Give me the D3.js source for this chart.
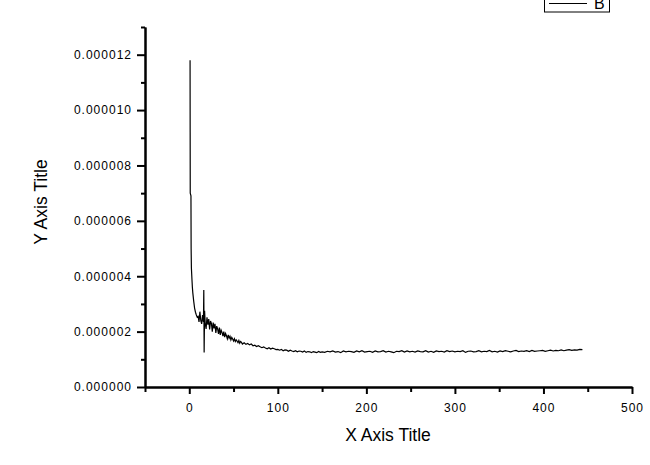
<!DOCTYPE html>
<html>
<head>
<meta charset="utf-8">
<script src="https://cdn.jsdelivr.net/npm/d3@7"></script>
<style>
  body { margin: 0; background: #fff; }
</style>
</head>
<body>
<script>
// series B (y in units of 1e-6)
var xValues = [0.9, 1.0, 1.1, 1.9, 2.1, 2.4, 3.0, 3.5, 4.0, 5.0, 6.0, 7.0, 8.0, 9.0,
  10, 11, 12, 13, 14, 15, 16, 16.4, 16.8, 17.3, 18, 19, 20, 21, 22, 23, 24, 25, 26, 27, 28, 29,
  30, 31, 32, 33, 34, 35, 36, 37, 38, 39, 40, 41, 42, 43, 44, 45, 46, 47, 48, 49,
  50, 51, 52, 53, 54, 55, 56, 57, 58, 59, 60,
  62, 64, 66, 68, 70, 72, 74, 76, 78, 80, 82, 84, 86, 88, 90, 92, 94, 96, 98, 100,
  102, 104, 106, 108, 110, 112, 114, 116, 118, 120, 122, 124, 126, 128, 130,
  132, 134, 136, 138, 140, 142, 144, 146, 148, 150,
  153, 156, 159, 162, 165, 168, 171, 174, 177, 180, 183, 186, 189, 192, 195, 198,
  201, 204, 207, 210, 213, 216, 219, 222, 225, 228, 231, 234, 237, 240, 243, 246, 249,
  252, 255, 258, 261, 264, 267, 270, 273, 276, 279, 282, 285, 288, 291, 294, 297, 300,
  303, 306, 309, 312, 315, 318, 321, 324, 327, 330, 333, 336, 339, 342, 345, 348, 351,
  354, 357, 360, 363, 366, 369, 372, 375, 378, 381, 384, 387, 390, 393, 396, 399,
  402, 405, 408, 411, 414, 417, 420, 423, 426, 429, 432, 435, 438, 441, 444, 447];

var yMicro = [11.8, 9.2, 7.0, 6.9, 5.0, 4.3, 3.9, 3.6, 3.4, 3.1, 2.85, 2.7, 2.6, 2.52,
  2.55, 2.35, 2.72, 2.40, 2.28, 2.60, 2.35, 3.50, 1.25, 2.75, 2.30, 2.10, 2.52, 2.25, 2.45, 2.08, 2.38, 2.30, 2.00, 2.33, 2.12, 2.28,
  1.95, 2.20, 2.10, 1.92, 2.15, 1.88, 2.05, 1.97, 1.84, 2.00, 1.80, 1.93, 1.85, 1.74, 1.88, 1.76, 1.83, 1.70, 1.79, 1.73,
  1.66, 1.74, 1.64, 1.70, 1.66, 1.60, 1.68, 1.58, 1.64, 1.61, 1.55,
  1.60, 1.54, 1.57, 1.52, 1.55, 1.49, 1.51, 1.46, 1.49, 1.45, 1.42, 1.45, 1.41, 1.38, 1.42, 1.37, 1.40, 1.38, 1.35, 1.36,
  1.33, 1.36, 1.31, 1.34, 1.33, 1.29, 1.33, 1.30, 1.28, 1.31, 1.27, 1.30, 1.29, 1.26, 1.30,
  1.25, 1.28, 1.27, 1.24, 1.28, 1.26, 1.24, 1.28, 1.25, 1.27,
  1.25, 1.29, 1.27, 1.30, 1.26, 1.28, 1.24, 1.30, 1.27, 1.29, 1.28, 1.25, 1.30, 1.27, 1.31, 1.26,
  1.28, 1.29, 1.25, 1.30, 1.27, 1.28, 1.31, 1.26, 1.29, 1.27, 1.24, 1.29, 1.28, 1.31, 1.26, 1.30, 1.27,
  1.29, 1.26, 1.30, 1.28, 1.27, 1.31, 1.26, 1.29, 1.25, 1.30, 1.28, 1.29, 1.26, 1.31, 1.28, 1.30,
  1.27, 1.29, 1.28, 1.31, 1.25, 1.29, 1.30, 1.27, 1.28, 1.31, 1.27, 1.29, 1.28, 1.32, 1.27, 1.29, 1.26,
  1.30, 1.28, 1.31, 1.29, 1.27, 1.30, 1.32, 1.28, 1.30, 1.29, 1.31, 1.28, 1.32, 1.29, 1.30, 1.31,
  1.32, 1.29, 1.31, 1.33, 1.30, 1.32, 1.31, 1.34, 1.31, 1.33, 1.35, 1.32, 1.34, 1.33, 1.36, 1.35];

var xMajorTicks = [0, 100, 200, 300, 400, 500];
var xMinorTicks = [-50, 50, 150, 250, 350, 450];
var yMajorTicks = [0, 2e-6, 4e-6, 6e-6, 8e-6, 10e-6, 12e-6];
var yMinorTicks = [1e-6, 3e-6, 5e-6, 7e-6, 9e-6, 11e-6, 13e-6];
var seriesName = 'B';

var width = 650, height = 465;
var font = "'Liberation Sans', Arial, sans-serif";

var svg = d3.select('body').append('svg').attr('width', width).attr('height', height);

var x = d3.scaleLinear().domain([-50, 500]).range([145, 632]);
var y = d3.scaleLinear().domain([0, 13e-6]).range([387, 27]);

var data = xValues.map(function (d, i) { return { x: d, y: yMicro[i] * 1e-6 }; });

// curve
svg.append('path')
  .datum(data)
  .attr('fill', 'none')
  .attr('stroke', '#000')
  .attr('stroke-width', 1.2)
  .attr('d', d3.line().x(function (d) { return x(d.x); }).y(function (d) { return y(d.y); }));

// minor ticks first, no labels
svg.append('g').attr('transform', 'translate(0,' + y(0) + ')')
  .call(d3.axisBottom(x).tickValues(xMinorTicks).tickSize(5).tickSizeOuter(0).tickFormat(''))
  .call(styleAxis);
svg.append('g').attr('transform', 'translate(' + x(-50) + ',0)')
  .call(d3.axisLeft(y).tickValues(yMinorTicks).tickSize(4).tickSizeOuter(0).tickFormat(''))
  .call(styleAxis);

// major ticks with labels
svg.append('g').attr('transform', 'translate(0,' + y(0) + ')')
  .call(d3.axisBottom(x).tickValues(xMajorTicks).tickSize(7).tickSizeOuter(0).tickPadding(9).tickFormat(d3.format('d')))
  .call(styleAxis);
svg.append('g').attr('transform', 'translate(' + x(-50) + ',0)')
  .call(d3.axisLeft(y).tickValues(yMajorTicks).tickSize(8).tickSizeOuter(0).tickPadding(5).tickFormat(d3.format('.6f')))
  .call(styleAxis);

function styleAxis(g) {
  g.select('.domain').attr('stroke', '#000').attr('stroke-width', 2);
  g.selectAll('.tick line').attr('stroke', '#000').attr('stroke-width', 2);
  g.selectAll('.tick text')
    .attr('fill', '#000')
    .attr('font-family', font)
    .attr('font-size', 12)
    .attr('letter-spacing', '1px');
}

// axis titles
svg.append('text')
  .attr('x', 388).attr('y', 441)
  .attr('text-anchor', 'middle')
  .attr('font-family', font).attr('font-size', 17.5)
  .text('X Axis Title');

svg.append('text')
  .attr('transform', 'translate(47,202) rotate(-90)')
  .attr('text-anchor', 'middle')
  .attr('font-family', font).attr('font-size', 17.5)
  .text('Y Axis Title');

// legend, its top runs off the frame as in the original
var legend = svg.append('g');
legend.append('rect')
  .attr('x', 544.5).attr('y', -12).attr('width', 65).attr('height', 24)
  .attr('fill', 'none').attr('stroke', '#000').attr('stroke-width', 1);
legend.append('line')
  .attr('x1', 549).attr('x2', 587).attr('y1', 3.5).attr('y2', 3.5)
  .attr('stroke', '#000').attr('stroke-width', 1);
legend.append('text')
  .attr('x', 594).attr('y', 8.5)
  .attr('font-family', font).attr('font-size', 16)
  .text(seriesName);
</script>
</body>
</html>
